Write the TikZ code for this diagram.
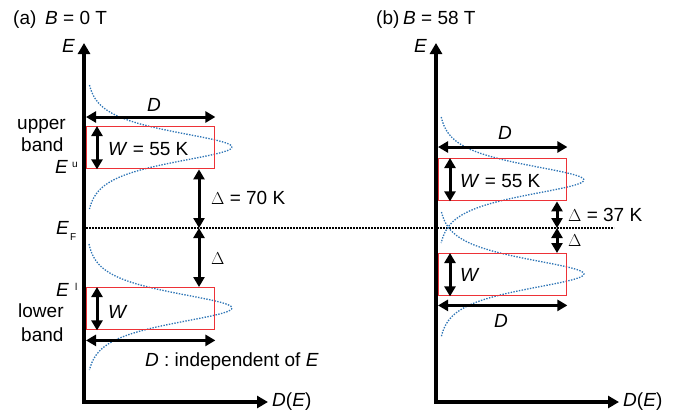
\documentclass[tikz,border=0pt]{standalone}
\usepackage{fontspec}
\setmainfont{Liberation Sans}
\usetikzlibrary{arrows.meta}
\definecolor{boxred}{RGB}{237,50,55}
\definecolor{curveblue}{RGB}{46,117,182}
\begin{document}
\begin{tikzpicture}[x=1pt,y=-1pt,
  font=\fontsize{19}{22}\selectfont,
  lbl/.style={inner sep=0pt, anchor=base west},
  small/.style={inner sep=0pt, anchor=base west, font=\fontsize{10}{11}\selectfont},
  axes/.style={line width=3.8pt, line join=miter, {Triangle[length=11pt,width=12pt]}-{Triangle[length=11pt,width=12pt]}},
  dbl/.style={line width=3pt, {Triangle[length=10pt,width=11pt]}-{Triangle[length=10pt,width=11pt]}},
  redbox/.style={draw=boxred, line width=1.4pt, minimum width=128pt, minimum height=42pt, inner sep=0pt, anchor=north west},
  dos/.style={draw=curveblue, line width=1.3pt, dash pattern=on 1.4pt off 1.4pt},
  fermi/.style={line width=2.6pt, dash pattern=on 1.6pt off 1.4pt}
]
\useasboundingbox (0,0) rectangle (683,416);

% ---------------- panel (a) ----------------
\node[lbl] (ta) at (13,24) {(a)};
\node[lbl] (tba) at (45,24) {\textit{B} = 0 T};

\coordinate (eA) at (84,43);
\coordinate (oA) at (84,402);
\coordinate (dA) at (268,402);

% Fermi line
\coordinate (efA) at (86,228);
\coordinate (efB) at (614,228);
\draw[fermi] (efA) -- (efB);

% curves
\draw[dos] plot[domain=-62:62, samples=90] ({86+146/cosh(\x/14)}, {147+\x});
\draw[dos] plot[domain=-64:62, samples=90] ({86+146/cosh(\x/14)}, {308+\x});

% boxes
\node[redbox] (ubA) at (86,126) {};
\node[redbox] (lbA) at (86,287) {};

\draw[axes] (eA) -- (oA) -- (dA);

\draw[dbl] ([yshift=9pt]ubA.north west) -- ([yshift=9pt]ubA.north east);
\draw[dbl] ([xshift=11pt]ubA.north west) -- ([xshift=11pt]ubA.south west);
\draw[dbl] ([xshift=11pt]lbA.north west) -- ([xshift=11pt]lbA.south west);
\draw[dbl] ([yshift=-10pt]lbA.south west) -- ([yshift=-10pt]lbA.south east);

\coordinate (dxA) at (199,228);
\draw[dbl] (dxA |- ubA.south) -- (dxA);
\draw[dbl] (dxA) -- (dxA |- lbA.north);

\node[lbl] (EaxA) at (62,52) {\textit{E}};
\node[lbl] (DtopA) at (147,111) {\textit{D}};
\node[lbl] (up1) at (17,129) {upper};
\node[lbl] (up2) at (21,151) {band};
\node[lbl] (WA) at (108,155) {\textit{W} = 55 K};
\node[lbl] (EuA) at (55,173) {\textit{E}};
\node[small] (uA) at (72,167) {u};
\node[lbl] (DelA) at (211,204) {$\Delta$ = 70 K};
\node[lbl] (EFA) at (56,234) {\textit{E}};
\node[small] (FA) at (70,240) {F};
\node[lbl] (Del2A) at (211,264) {$\Delta$};
\node[lbl] (ElA) at (56,296) {\textit{E}};
\node[small] (lA) at (75,290) {l};
\node[lbl] (lo1) at (18,317) {lower};
\node[lbl] (lo2) at (21,341) {band};
\node[lbl] (W2A) at (108,318) {\textit{W}};
\node[lbl] (indA) at (145,366) {\textit{D} : independent of \textit{E}};
\node[lbl] (DEA) at (272,406) {\textit{D}(\textit{E})};

% ---------------- panel (b) ----------------
\node[lbl] (tb1) at (376,24) {(b)};
\node[lbl] (tb2) at (403,24) {\textit{B} = 58 T};

\coordinate (eB) at (436,43);
\coordinate (oB) at (436,402);
\coordinate (dB) at (619,402);

\draw[dos] plot[domain=-63:63, samples=90] ({438+146/cosh(\x/14)}, {180+\x});
\draw[dos] plot[domain=-62:63, samples=90] ({438+146/cosh(\x/14)}, {274+\x});

\node[redbox] (ubB) at (438,158) {};
\node[redbox] (lbB) at (438,253) {};

\draw[axes] (eB) -- (oB) -- (dB);

\draw[dbl] ([yshift=11pt]ubB.north west) -- ([yshift=11pt]ubB.north east);
\draw[dbl] ([xshift=12pt]ubB.north west) -- ([xshift=12pt]ubB.south west);
\draw[dbl] ([xshift=12pt]lbB.north west) -- ([xshift=12pt]lbB.south west);
\draw[dbl] ([yshift=-9pt]lbB.south west) -- ([yshift=-9pt]lbB.south east);

\coordinate (dxB) at (557,228);
\draw[dbl] (dxB |- ubB.south) -- (dxB);
\draw[dbl] (dxB) -- (dxB |- lbB.north);

\node[lbl] (EaxB) at (414,52) {\textit{E}};
\node[lbl] (DtopB) at (498,139) {\textit{D}};
\node[lbl] (WB) at (460,187) {\textit{W} = 55 K};
\node[lbl] (DelB) at (568,221) {$\Delta$ = 37 K};
\node[lbl] (Del2B) at (568,246) {$\Delta$};
\node[lbl] (W2B) at (460,281) {\textit{W}};
\node[lbl] (DbotB) at (494,327) {\textit{D}};
\node[lbl] (DEB) at (623,406) {\textit{D}(\textit{E})};
\end{tikzpicture}
\end{document}
